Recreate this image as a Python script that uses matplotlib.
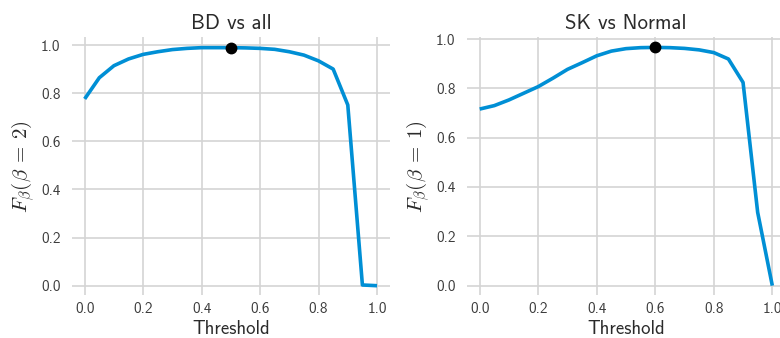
import matplotlib
matplotlib.use("Agg")
import matplotlib.pyplot as plt
import numpy as np

thresholds = [0.0, 0.05, 0.1, 0.15, 0.2, 0.25, 0.3, 0.35, 0.4, 0.45, 0.5,
              0.55, 0.6, 0.65, 0.7, 0.75, 0.8, 0.85, 0.9, 0.95, 1.0]
bd_scores = [0.776, 0.864, 0.914, 0.942, 0.961, 0.972, 0.981, 0.986, 0.989, 0.989, 0.989,
             0.988, 0.986, 0.982, 0.972, 0.958, 0.934, 0.900, 0.751, 0.003, 0.0]
sk_scores = [0.716, 0.730, 0.753, 0.780, 0.807, 0.841, 0.877, 0.904, 0.932, 0.951, 0.961,
             0.965, 0.966, 0.965, 0.962, 0.956, 0.945, 0.919, 0.824, 0.297, 0.0]
titles = ["BD vs all", "SK vs Normal"]
ylabels = [r"$F_\beta(\beta\:=\:2)$", r"$F_\beta(\beta\:=\:1)$"]
best_idx = [10, 12]
yticks = [0.0, 0.2, 0.4, 0.6, 0.8, 1.0]
xticks = [0.0, 0.2, 0.4, 0.6, 0.8, 1.0]

plt.rcParams['font.family'] = ['cmss10', 'DejaVu Sans']
plt.rcParams['mathtext.fontset'] = 'cm'
plt.rcParams['axes.unicode_minus'] = False

W, H = 780, 338
fig = plt.figure(figsize=(W / 100, H / 100), dpi=100)
fig.patch.set_facecolor('white')

def px_axes(x0, x1, ytop, ybot):
    return fig.add_axes([x0 / W, (H - ybot) / H, (x1 - x0) / W, (ybot - ytop) / H])

axes = [px_axes(71.7, 390.0, 37.3, 295.0), px_axes(466.7, 785.3, 37.3, 295.0)]
ylims = [(-0.0386, 1.032), (-0.038, 1.007)]

for ax, ys, title, yl, bi, ylim in zip(axes, [bd_scores, sk_scores], titles, ylabels, best_idx, ylims):
    ax.set_facecolor('white')
    ax.plot(thresholds, ys, color='#008fd5', lw=2.6, solid_capstyle='butt', zorder=3)
    ax.plot([thresholds[bi]], [ys[bi]], 'o', color='black', ms=7.5, zorder=4)
    ax.set_xlim(-0.0444, 1.0444)
    ax.set_ylim(*ylim)
    ax.set_xticks(xticks)
    ax.set_yticks(yticks)
    ax.set_xticklabels([f"{v:.1f}" for v in xticks])
    ax.set_yticklabels([f"{v:.1f}" for v in yticks])
    ax.grid(True, color='#d4d4d4', lw=1.2, zorder=0)
    ax.set_axisbelow(True)
    for s in ax.spines.values():
        s.set_visible(False)
    ax.tick_params(length=0, labelsize=11, colors='#3c3c3c', pad=8)
    ax.tick_params(axis='x', pad=5)
    ax.set_title(title, fontsize=15, color='#2a2a2a', pad=6)
    ax.set_xlabel("Threshold", fontsize=13.5, color='#2a2a2a', labelpad=3)
    ax.set_ylabel(yl, fontsize=15, color='#2a2a2a', labelpad=3)

fig.savefig("out.png", dpi=100, facecolor='white')
